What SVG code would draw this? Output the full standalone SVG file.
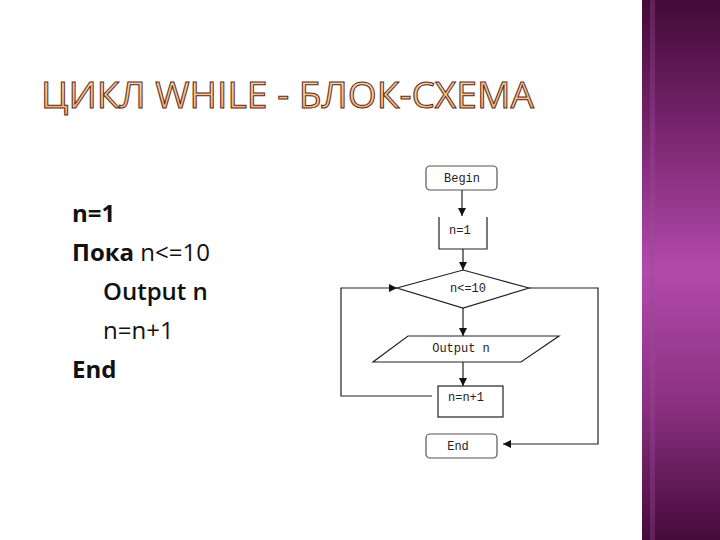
<svg xmlns="http://www.w3.org/2000/svg" width="720" height="540" viewBox="0 0 720 540">
<defs>
<linearGradient id="side" x1="0" y1="0" x2="0" y2="1">
<stop offset="0" stop-color="#420b36"/>
<stop offset="0.25" stop-color="#7a2670"/>
<stop offset="0.5" stop-color="#b24aab"/>
<stop offset="0.75" stop-color="#8a3080"/>
<stop offset="1" stop-color="#450b3a"/>
</linearGradient>
<linearGradient id="titleFill" x1="0" y1="0" x2="0" y2="1">
<stop offset="0" stop-color="#fde2c2"/>
<stop offset="1" stop-color="#f6a75e"/>
</linearGradient>
<marker id="arr" viewBox="0 0 10 10" refX="10" refY="5" markerWidth="8" markerHeight="8" markerUnits="userSpaceOnUse" orient="auto">
<path d="M0,0 L10,5 L0,10 z" fill="#111"/>
</marker>
<style>
.shape{fill:#fff;stroke:#222;stroke-width:1.2}
.term{fill:#fff;stroke:#555;stroke-width:1.2}
.lbl{font-family:"Liberation Mono","Courier New",monospace;font-size:12px;fill:#222}
.conn{fill:none;stroke:#222;stroke-width:1.2}
.code{font-family:"Open Sans","Noto Sans",sans-serif;font-size:24px;fill:#111}
</style>
</defs>
<rect width="720" height="540" fill="#fff"/>
<rect x="642" y="0" width="78" height="540" fill="url(#side)"/>
<rect x="650" y="0" width="5" height="540" fill="#9a4a9c" opacity="0.35"/>
<text x="41" y="108" font-family="'Open Sans','Noto Sans',sans-serif" font-size="37" fill="url(#titleFill)" stroke="#5a2a1a" stroke-width="1" textLength="493" lengthAdjust="spacingAndGlyphs">ЦИКЛ WHILE - БЛОК-СХЕМА</text>
<g id="code">
<text class="code" x="72" y="222" font-weight="700">n=1</text>
<text class="code" x="72" y="261"><tspan font-weight="700">Пока</tspan> n&lt;=10</text>
<text class="code" x="103" y="300" font-weight="600">Output n</text>
<text class="code" x="103" y="339">n=n+1</text>
<text class="code" x="72" y="378" font-weight="700">End</text>
</g>
<g id="connectors">
<line class="conn" x1="462" y1="190" x2="462" y2="216" marker-end="url(#arr)"/>
<line class="conn" x1="463" y1="249" x2="463" y2="270" marker-end="url(#arr)"/>
<line class="conn" x1="463" y1="308" x2="463" y2="336" marker-end="url(#arr)"/>
<line class="conn" x1="463" y1="362" x2="463" y2="386" marker-end="url(#arr)"/>
<polyline class="conn" points="432,396 341,396 341,288 397,288" marker-end="url(#arr)"/>
<polyline class="conn" points="529,288 598,288 598,444 503,444" marker-end="url(#arr)"/>
</g>
<g id="begin">
<rect class="term" x="426" y="166" width="71" height="24" rx="4"/>
<text class="lbl" x="462" y="182" text-anchor="middle">Begin</text>
</g>
<g id="init">
<path class="shape" d="M439,217 V249 H487 V217"/>
<text class="lbl" x="449" y="234">n=1</text>
</g>
<g id="cond">
<polygon class="shape" points="463,270 529,288 463,308 397,288"/>
<text class="lbl" x="468" y="292" text-anchor="middle">n&lt;=10</text>
</g>
<g id="output">
<polygon class="shape" points="408,336 559,336 521,362 373,362"/>
<text class="lbl" x="461" y="352" text-anchor="middle">Output n</text>
</g>
<g id="inc">
<rect class="shape" x="438" y="386" width="65" height="31"/>
<text class="lbl" x="448" y="401">n=n+1</text>
</g>
<g id="end">
<rect class="term" x="426" y="434" width="71" height="24" rx="4"/>
<text class="lbl" x="458" y="450" text-anchor="middle">End</text>
</g>
</svg>
